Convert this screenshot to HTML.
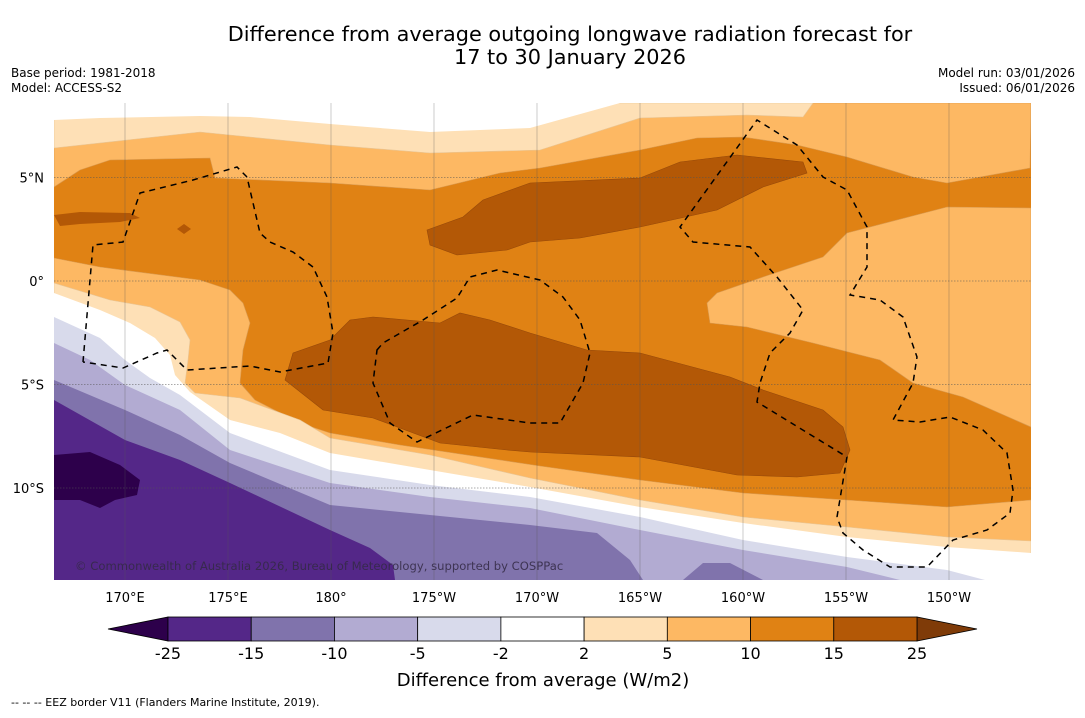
<!DOCTYPE html>
<html><head><meta charset="utf-8"><style>
body{margin:0;background:#fff;font-family:"Liberation Sans","DejaVu Sans",sans-serif}
svg text{font-family:"DejaVu Sans","Liberation Sans",sans-serif}
</style></head><body>
<svg id="s" width="1085" height="713" viewBox="0 0 1085 713" xmlns="http://www.w3.org/2000/svg">
<rect width="1085" height="713" fill="#fff"/>
<text x="570" y="41" font-size="20.8" text-anchor="middle">Difference from average outgoing longwave radiation forecast for</text>
<text x="570" y="64" font-size="20.8" text-anchor="middle">17 to 30 January 2026</text>
<text x="11" y="77" font-size="12">Base period: 1981-2018</text>
<text x="11" y="92" font-size="12">Model: ACCESS-S2</text>
<text x="1075" y="77" font-size="12" text-anchor="end">Model run: 03/01/2026</text>
<text x="1075" y="92" font-size="12" text-anchor="end">Issued: 06/01/2026</text>
<defs><clipPath id="mc"><rect x="54" y="103" width="977" height="477"/></clipPath></defs>
<g clip-path="url(#mc)" stroke-width="0.6">
<rect x="54" y="103" width="977" height="477" fill="#e08214"/>
<polygon fill="#fdb863" stroke="#d99a50" points="54,103 1031,103 1030,168 947,183 913,177 847,157 797,145 743,137 697,138 640,150 540,168 500,173 430,190 330,183 215,178 210,158 110,160 80,170 54,187"/>
<polygon fill="#fee0b6" stroke="#e8c595" points="54,103 813,103 803,117 747,115 640,118 540,150 430,153 330,145 200,132 54,148"/>
<polygon fill="#fff" points="54,103 620,103 530,128 480,130 430,132 330,124 250,117 200,116 100,118 54,120"/>
<polygon fill="#fdb863" stroke="#d99a50" points="1031,208 947,207 847,233 823,257 763,277 717,293 707,303 710,323 747,327 813,343 880,360 913,383 963,397 1031,427"/>
<polygon fill="#fdb863" stroke="#d99a50" points="54,258 100,267 200,280 230,290 243,303 250,323 243,350 240,383 255,400 300,423 330,433 400,445 540,466 640,480 743,493 847,500 947,507 1031,500 1031,580 54,580"/>
<polygon fill="#fee0b6" stroke="#e8c595" points="54,283 110,300 150,307 180,322 190,340 188,360 185,383 195,393 240,398 300,420 330,438 430,455 530,478 640,500 743,517 847,527 947,537 1031,541 1031,580 54,580"/>
<polygon fill="#fff" points="54,293 100,310 130,323 155,338 170,355 175,375 190,392 230,420 280,433 330,453 430,470 530,487 640,507 743,523 847,537 947,547 1031,553 1031,580 54,580"/>
<polygon fill="#d8daeb" points="54,317 100,338 125,360 150,378 180,395 230,433 330,470 430,485 530,497 640,517 743,540 847,557 947,570 985,580 54,580"/>
<polygon fill="#b2abd2" points="54,343 90,360 125,385 180,410 230,450 330,483 430,497 530,508 640,530 743,550 847,567 900,580 54,580"/>
<polygon fill="#8073ac" points="54,380 125,410 180,435 230,463 330,505 430,515 530,525 597,533 630,560 643,580 54,580"/>
<polygon fill="#8073ac" points="683,580 703,563 730,563 763,580"/>
<polygon fill="#542788" points="54,400 125,440 180,460 230,483 330,530 370,548 393,565 395,580 54,580"/>
<polygon fill="#2d004b" points="54,455 90,452 120,465 140,480 137,495 115,500 100,508 80,500 54,500"/>
<polygon fill="#b35806" stroke="#96490a" points="427,230 463,217 483,200 530,183 640,178 680,162 737,155 803,162 807,173 763,187 717,210 640,227 580,238 530,242 507,250 457,255 430,245"/>
<polygon fill="#b35806" stroke="#96490a" points="285,380 293,353 330,340 350,320 373,317 440,323 460,313 490,320 530,333 587,350 640,353 730,377 763,390 823,410 843,427 850,450 840,473 797,477 737,475 640,457 530,452 507,450 440,443 373,418 323,410"/>
<polygon fill="#b35806" points="54,215 80,212 130,213 140,218 120,222 80,224 60,226"/>
<polygon fill="#b35806" points="177,229 184,224 191,229 184,234"/>
<g id="grid" stroke="#555" stroke-width="0.6" fill="none"></g>
<g fill="none" stroke="#000" stroke-width="1.5" stroke-dasharray="6,5">
<polyline points="83,362 93,245 123,242 140,193 193,180 237,167 247,177 260,233 270,242 293,252 313,267 327,297 333,333 328,363 280,372 250,366 187,370 167,350 157,353 123,368 83,362"/>
<polygon points="377,350 383,343 423,320 457,298 470,277 497,270 540,280 563,297 580,320 590,353 583,383 560,423 530,423 473,415 417,442 390,423 373,383"/>
<polygon points="837,517 847,457 757,402 760,383 770,353 790,333 803,310 777,277 750,247 693,242 680,227 757,120 797,145 823,177 847,190 867,227 867,267 850,295 880,300 903,317 917,357 913,383 893,420 920,422 950,417 983,430 1007,453 1013,490 1010,513 987,530 953,540 927,567 890,567 863,550 843,533"/>
</g>
<text x="75" y="570" font-size="11.6" fill="#332a44" opacity="0.85">© Commonwealth of Australia 2026, Bureau of Meteorology, supported by COSPPac</text>
</g>
<g id="axes" font-size="13" fill="#000"></g>
<g id="cbar"></g>
<text x="543" y="686" font-size="18" text-anchor="middle">Difference from average (W/m2)</text>
<text x="11" y="706" font-size="11">--  --  -- EEZ border V11 (Flanders Marine Institute, 2019).</text>
</svg>
<script>
const lonTicks=[170,175,180,185,190,195,200,205,210];
const lonLabels=["170°E","175°E","180°","175°W","170°W","165°W","160°W","155°W","150°W"];
const latTicks=[5,0,-5,-10];
const latLabels=["5°N","0°","5°S","10°S"];
const levels=["-25","-15","-10","-5","-2","2","5","10","15","25"];
const colors=["#542788","#8073ac","#b2abd2","#d8daeb","#ffffff","#fee0b6","#fdb863","#e08214","#b35806"];
const lowColor="#2d004b", highColor="#7f3b08";
const NS="http://www.w3.org/2000/svg";
const lx=lon=>125+(lon-170)*20.6, ly=lat=>281-lat*20.7;
function mk(t,a,p){const e=document.createElementNS(NS,t);for(const k in a)e.setAttribute(k,a[k]);p.appendChild(e);return e;}
const grid=document.getElementById('grid'), axes=document.getElementById('axes'), cb=document.getElementById('cbar');
lonTicks.forEach((l,i)=>{
  const g=mk('line',{x1:lx(l),x2:lx(l),y1:103,y2:580,'stroke-opacity':0.5},grid);
  
  
  const t=mk('text',{x:lx(l),y:602,'text-anchor':'middle'},axes);t.textContent=lonLabels[i];
  
  
});
latTicks.forEach((l,i)=>{
  const g=mk('line',{x1:54,x2:1031,y1:ly(l),y2:ly(l),'stroke-dasharray':'1.5,1.5'},grid);
  
  
  const t=mk('text',{x:44,y:ly(l)+5,'text-anchor':'end'},axes);t.textContent=latLabels[i];
  
  
});
const x0=168,x1=917,y0=617,h=24,w=(x1-x0)/colors.length;
const lt=mk('polygon',{points:`108,${y0+h/2} ${x0},${y0} ${x0},${y0+h}`,fill:lowColor,stroke:'#000','stroke-width':0.8},cb);


const rt=mk('polygon',{points:`977,${y0+h/2} ${x1},${y0} ${x1},${y0+h}`,fill:highColor,stroke:'#000','stroke-width':0.8},cb);


colors.forEach((c,i)=>{
  const r=mk('rect',{x:x0+i*w,y:y0,width:w,height:h,fill:c,stroke:'#000','stroke-width':0.8},cb);
  
  
});
levels.forEach((v,i)=>{
  const t=mk('text',{x:x0+i*w,y:659,'font-size':16,'text-anchor':'middle'},cb);t.textContent=v;
  
  
});
</script>
</body></html>
